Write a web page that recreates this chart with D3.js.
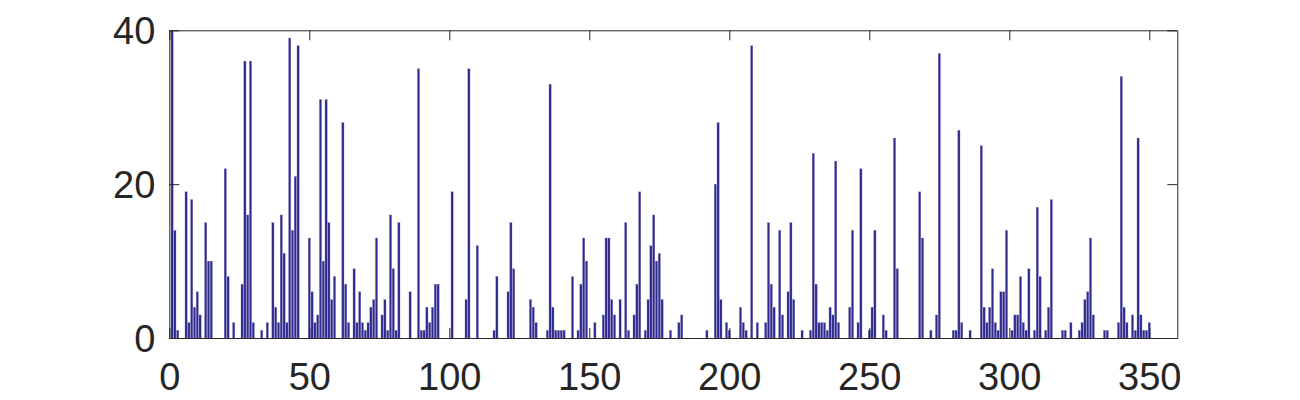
<!DOCTYPE html>
<html>
<head>
<meta charset="utf-8">
<script src="https://cdn.jsdelivr.net/npm/d3@7"></script>
<style>
  body { margin: 0; background: #fff; }
  .axis text { font-family: "Liberation Sans", Arial, Helvetica, sans-serif; font-size: 38px; fill: #262626; }
  .axis path, .axis line { stroke: #262626; }
</style>
</head>
<body>
<div id="chart"></div>
<script>
// bar heights for x = 1..350, ten per row
const counts = [
  40,14,1,0,0,19,2,18,4,6,
  3,0,15,10,10,0,0,0,0,22,
  8,0,2,0,0,7,36,16,36,2,
  0,0,1,0,2,0,15,4,2,16,
  11,2,39,14,21,38,0,0,0,13,
  6,2,3,31,10,31,15,5,8,0,
  0,28,7,2,0,9,2,6,2,1,
  2,4,5,13,0,3,5,1,16,9,
  1,15,0,0,0,6,0,0,35,1,
  1,4,2,4,7,7,0,0,0,0,
  19,0,0,0,0,5,35,0,0,12,
  0,0,0,0,0,1,8,0,0,0,
  6,15,9,0,0,0,0,0,5,4,
  2,0,0,0,1,33,4,1,1,1,
  1,0,0,8,0,1,7,13,10,0,
  0,2,0,0,3,13,13,5,3,0,
  5,0,15,1,0,3,7,19,0,1,
  5,12,16,10,11,5,0,0,1,0,
  0,2,3,0,0,0,0,0,0,0,
  0,1,0,0,20,28,5,0,2,1,
  0,0,0,4,2,1,0,38,0,2,
  0,0,2,15,7,4,0,14,3,0,
  6,15,5,0,0,1,0,0,1,24,
  7,2,2,2,1,4,3,23,2,0,
  0,0,4,14,0,2,22,0,0,1,
  4,14,0,0,3,1,0,0,26,9,
  0,0,0,0,0,0,0,19,13,0,
  0,1,0,3,37,0,0,0,0,1,
  1,27,2,0,0,1,0,0,0,25,
  4,2,4,9,2,1,6,6,14,0,
  1,3,3,8,2,1,9,0,1,17,
  8,0,1,4,18,0,0,0,1,1,
  0,2,0,0,1,2,5,6,13,3,
  0,0,0,1,1,0,0,0,2,34,
  4,2,0,3,1,26,3,1,1,2
];
const xTicks = [0, 50, 100, 150, 200, 250, 300, 350];
const yTicks = [0, 20, 40];

const width = 1300, height = 400;
const plotLeft = 169.3, plotRight = 1177.3, plotTop = 30.3, plotBottom = 338;

const x = d3.scaleLinear().domain([0, 360]).range([plotLeft, plotRight]);
const y = d3.scaleLinear().domain([0, 40]).range([plotBottom, plotTop]);
const barW = x(0.8) - x(0);

const svg = d3.select("#chart")
  .append("svg")
  .attr("width", width)
  .attr("height", height);

svg.append("clipPath")
  .attr("id", "plot")
  .append("rect")
  .attr("x", plotLeft)
  .attr("y", plotTop)
  .attr("width", plotRight - plotLeft)
  .attr("height", plotBottom - plotTop);

svg.append("g")
  .attr("clip-path", "url(#plot)")
  .selectAll("rect")
  .data(counts.map((v, i) => ({ i: i + 1, v: v })).filter(d => d.v > 0))
  .enter()
  .append("rect")
  .attr("x", d => x(d.i) - barW / 2)
  .attr("y", d => y(d.v))
  .attr("width", barW)
  .attr("height", d => y(0) - y(d.v))
  .attr("fill", "#2f2b8c")
  .attr("stroke", "#8b88c8")
  .attr("stroke-width", 0.3);

// axes, ticks point inward like matlab
svg.append("g")
  .attr("class", "axis")
  .attr("transform", "translate(0," + plotBottom + ")")
  .call(d3.axisBottom(x).tickValues(xTicks).tickSize(-10).tickSizeOuter(0).tickPadding(25));

svg.append("g")
  .attr("class", "axis")
  .attr("transform", "translate(0," + plotTop + ")")
  .call(d3.axisTop(x).tickValues(xTicks).tickSize(-10).tickSizeOuter(0).tickFormat(""));

svg.append("g")
  .attr("class", "axis")
  .attr("transform", "translate(" + plotLeft + ",0)")
  .call(d3.axisLeft(y).tickValues(yTicks).tickSize(-10).tickSizeOuter(0).tickPadding(14))
  .selectAll("text").attr("dy", "0.35em");

svg.append("g")
  .attr("class", "axis")
  .attr("transform", "translate(" + plotRight + ",0)")
  .call(d3.axisRight(y).tickValues(yTicks).tickSize(-10).tickSizeOuter(0).tickFormat(""));
</script>
</body>
</html>
